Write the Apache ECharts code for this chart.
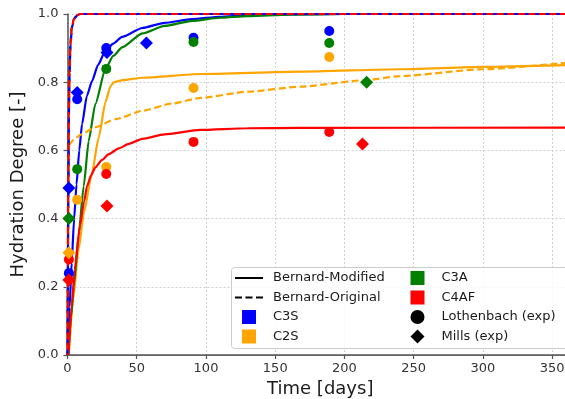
<!DOCTYPE html>
<html><head><meta charset="utf-8">
<script src="https://cdn.jsdelivr.net/npm/echarts@6/dist/echarts.min.js"></script>
<style>html,body{margin:0;padding:0;background:#fff}#c{width:565px;height:399px}</style>
</head><body><div id="c"></div>
<script>
// ---- data (time in days, hydration degree) ----
const xTicks = [0, 50, 100, 150, 200, 250, 300, 350];
const yTicks = [0.0, 0.2, 0.4, 0.6, 0.8, 1.0];

// Bernard-Modified (solid)
const c3sModified = [[0.3,0],[1.5,0.14],[3,0.27],[4.8,0.4],[6.5,0.5],[8.5,0.6],[10.5,0.677],[14,0.76],[17.7,0.803],[22,0.85],[27,0.889],[33,0.913],[39.4,0.933],[54,0.959],[70,0.974],[90,0.985],[110,0.992],[130,0.996],[160,0.999],[200,1],[365,1]];
const c2sModified = [[1,0],[4,0.16],[8,0.31],[12,0.42],[17,0.52],[22.6,0.638],[27.4,0.742],[31,0.788],[33.5,0.8],[40,0.806],[54,0.813],[96,0.824],[168,0.831],[240,0.838],[300,0.845],[365,0.851]];
const c3aModified = [[0.5,0],[2.5,0.11],[4.5,0.2],[8,0.35],[11.7,0.495],[15.3,0.628],[20.1,0.736],[27.4,0.839],[33,0.877],[39.4,0.902],[54,0.943],[70,0.965],[90,0.98],[110,0.989],[130,0.994],[160,0.998],[200,1],[365,1]];
const c4afModified = [[0.7,0],[3,0.14],[5.2,0.25],[9,0.38],[12,0.45],[14.1,0.495],[17,0.527],[20.1,0.55],[25,0.572],[29.8,0.589],[37,0.606],[44.3,0.619],[54,0.634],[70,0.647],[96,0.66],[130,0.665],[168,0.666],[365,0.667]];

// Bernard-Original (dashed)
const c3sOriginal = [[0,0],[0.25,0.2],[0.6,0.5],[1.0,0.7],[1.5,0.83],[2.2,0.91],[3.2,0.96],[4.8,0.985],[7,0.996],[10,1],[365,1]];
const c2sOriginal = [[0,0],[0.3,0.3],[0.6,0.5],[0.9,0.6],[1.5,0.618],[4,0.63],[10,0.647],[20,0.668],[35,0.692],[54,0.716],[75,0.737],[96,0.754],[130,0.772],[168,0.787],[215,0.806],[240,0.818],[300,0.838],[365,0.859]];
const c3aOriginal = [[0,0],[0.2,0.2],[0.5,0.5],[0.9,0.7],[1.4,0.83],[2,0.91],[3,0.96],[4.5,0.985],[6.5,0.996],[9,1],[365,1]];
const c4afOriginal = [[0,0],[0.2,0.2],[0.5,0.5],[0.9,0.7],[1.4,0.83],[2.1,0.91],[3.1,0.96],[4.6,0.985],[6.6,0.996],[9,1],[365,1]];

// Lothenbach (exp) - circles
const c3sLothenbach = [[1,0.24],[7,0.75],[28,0.90],[91,0.93],[189,0.95]];
const c2sLothenbach = [[7,0.455],[28,0.551],[91,0.783],[189,0.874]];
const c3aLothenbach = [[7,0.545],[28,0.839],[91,0.918],[189,0.915]];
const c4afLothenbach = [[1,0.28],[28,0.531],[91,0.625],[189,0.654]];

// Mills (exp) - diamonds
const c3sMills = [[1,0.49],[7,0.77],[28.5,0.887],[57,0.915]];
const c2sMills = [[1,0.30]];
const c3aMills = [[1,0.40],[216,0.80]];
const c4afMills = [[1,0.22],[28.5,0.437],[213,0.619]];

const colors = { C3S: '#0000ff', C2S: '#ffa500', C3A: '#008000', C4AF: '#ff0000' };
const FONT = 'DejaVu Sans';

function curve(name, data, color, dashed, offset) {
  return {
    name, type: 'line', data, symbol: 'none', smooth: 0.2, smoothMonotone: 'x',
    lineStyle: { color, width: 2.2, type: dashed ? [7, 3.5] : 'solid', dashOffset: offset || 0 },
    itemStyle: { color }, silent: true, z: 2
  };
}
function pts(name, data, color, sym, size) {
  return { name, type: 'scatter', data, symbol: sym, symbolSize: size,
    itemStyle: { color, opacity: 1 }, silent: true, z: 3 };
}
function dummy(name, color) {
  return { name, type: 'scatter', data: [], itemStyle: { color, opacity: 1 } };
}

const series = [
  curve('C3S modified', c3sModified, colors.C3S, false),
  curve('C2S modified', c2sModified, colors.C2S, false),
  curve('C3A modified', c3aModified, colors.C3A, false),
  curve('C4AF modified', c4afModified, colors.C4AF, false),
  curve('C2S original', c2sOriginal, colors.C2S, true),
  curve('C3A original', c3aOriginal, colors.C3A, true, 3),
  curve('C3S original', c3sOriginal, colors.C3S, true, 0),
  curve('C4AF original', c4afOriginal, colors.C4AF, true, 5.2),
  pts('C3S L', c3sLothenbach, colors.C3S, 'circle', 10),
  pts('C2S L', c2sLothenbach, colors.C2S, 'circle', 10),
  pts('C3A L', c3aLothenbach, colors.C3A, 'circle', 10),
  pts('C4AF L', c4afLothenbach, colors.C4AF, 'circle', 10),
  pts('C3S M', c3sMills, colors.C3S, 'diamond', 13),
  pts('C2S M', c2sMills, colors.C2S, 'diamond', 13),
  pts('C3A M', c3aMills, colors.C3A, 'diamond', 13),
  pts('C4AF M', c4afMills, colors.C4AF, 'diamond', 13),
  dummy('Bernard-Modified', '#000'),
  dummy('Bernard-Original', '#000'),
  dummy('C3S', colors.C3S),
  dummy('C2S', colors.C2S),
  dummy('C3A', colors.C3A),
  dummy('C4AF', colors.C4AF),
  dummy('Lothenbach (exp)', '#000'),
  dummy('Mills (exp)', '#000')
];

const ICON_LINE = 'path://M0,0h28v2h-28z';
const ICON_DASH = 'path://M0,0h7v2h-7z M10.5,0h7v2h-7z M21,0h7v2h-7z';
const ICON_SQ = 'path://M0,0h1v1h-1z';
const ICON_DIA = 'path://M0,-1L1,0L0,1L-1,0Z';

const legendBase = {
  orient: 'vertical', top: 271, itemGap: 5.5, itemWidth: 28, itemHeight: 14,
  padding: 0, selectedMode: false, symbolKeepAspect: true, z: 60,
  textStyle: { fontFamily: FONT, fontSize: 13, color: '#1a1a1a', lineHeight: 14, padding: [0, 0, 0, 5] }
};

const option = {
  animation: false,
  backgroundColor: '#ffffff',
  grid: { left: 67.5, right: -8, top: 14, bottom: 44, containLabel: false, outerBoundsMode: 'none' },
  xAxis: [{
    type: 'value', min: 0, max: 365, interval: 50,
    name: 'Time [days]', nameLocation: 'middle', nameGap: 24,
    nameTextStyle: { fontFamily: FONT, fontSize: 18, color: '#1a1a1a' },
    axisLine: { show: true, onZero: false, lineStyle: { color: '#555', width: 1.5 } },
    axisTick: { show: true, inside: false, length: 4, lineStyle: { color: '#555', width: 1.2 } },
    axisLabel: { fontFamily: FONT, fontSize: 13, color: '#333', margin: 7, showMaxLabel: false,
      formatter: v => (xTicks.indexOf(v) >= 0 ? String(v) : '') },
    splitLine: { show: true, lineStyle: { color: '#cfcfcf', width: 1, type: [2, 2] } }
  }, {
    type: 'value', min: 0, max: 365, position: 'top',
    axisLine: { show: true, lineStyle: { color: '#666', width: 1.2 } },
    axisTick: { show: false }, axisLabel: { show: false }, splitLine: { show: false }
  }],
  yAxis: {
    type: 'value', min: 0, max: 1, interval: 0.2,
    name: 'Hydration Degree [-]', nameLocation: 'middle', nameGap: 27,
    nameTextStyle: { fontFamily: FONT, fontSize: 18, color: '#1a1a1a' },
    axisLine: { show: true, onZero: false, lineStyle: { color: '#555', width: 1.5 } },
    axisTick: { show: true, inside: false, length: 4, lineStyle: { color: '#555', width: 1.2 } },
    axisLabel: { fontFamily: FONT, fontSize: 13, color: '#333', margin: 9,
      formatter: v => (yTicks.some(t => Math.abs(t - v) < 1e-9) ? v.toFixed(1) : '') },
    splitLine: { show: true, lineStyle: { color: '#cfcfcf', width: 1, type: [2, 2] } }
  },
  legend: [
    Object.assign({}, legendBase, { left: 235, data: [
      { name: 'Bernard-Modified', icon: ICON_LINE },
      { name: 'Bernard-Original', icon: ICON_DASH },
      { name: 'C3S', icon: ICON_SQ },
      { name: 'C2S', icon: ICON_SQ }
    ] }),
    Object.assign({}, legendBase, { left: 410.5, data: [
      { name: 'C3A', icon: ICON_SQ },
      { name: 'C4AF', icon: ICON_SQ },
      { name: 'Lothenbach (exp)', icon: 'circle' },
      { name: 'Mills (exp)', icon: ICON_DIA }
    ] })
  ],
  graphic: [{
    type: 'rect', left: 231, top: 267, z: 50,
    shape: { width: 345, height: 81, r: 3 },
    style: { fill: 'rgba(255,255,255,0.85)', stroke: '#cccccc', lineWidth: 1 }
  }],
  series
};

const chart = echarts.init(document.getElementById('c'), null, { renderer: 'canvas' });
chart.setOption(option);
</script>
</body></html>
